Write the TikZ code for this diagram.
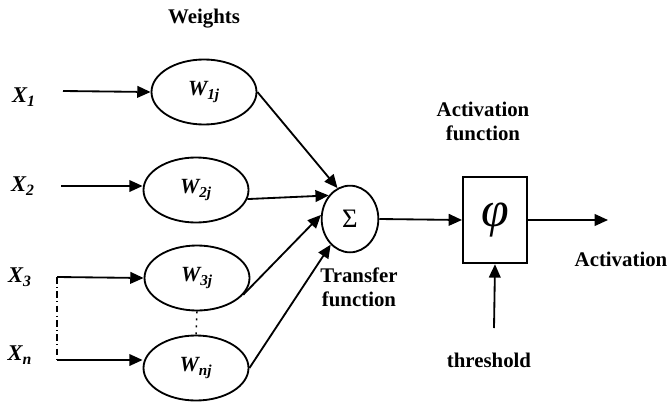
\documentclass[tikz,border=0pt]{standalone}
\usepackage{fontspec}
\setmainfont{Liberation Serif}
\usetikzlibrary{shapes.geometric,arrows.meta}

\begin{document}
\begin{tikzpicture}[x=0.6pt,y=-0.6pt]
        \tikzstyle{peso}=[draw=black, ellipse, line width=1.1pt, minimum width=63pt, minimum height=39pt, inner sep=0pt, font=\fontsize{13}{14}\bfseries\itshape]
        \tikzstyle{soma}=[draw=black, ellipse, line width=1.1pt, minimum width=34pt, minimum height=40pt, inner sep=0pt, font=\fontsize{16}{16}\selectfont]
        \tikzstyle{caixa}=[draw=black, rectangle, line width=1.1pt, minimum width=38.5pt, minimum height=52pt, inner sep=0pt, font=\fontsize{30}{30}\selectfont\itshape]
        \tikzstyle{rotulo}=[font=\fontsize{12.5}{14.4}\bfseries, align=center]
        \tikzstyle{entrada}=[font=\fontsize{13.5}{14}\bfseries\itshape]
        \tikzstyle{seta}=[line width=1.1pt, -{Triangle[length=8pt, width=7pt]}]

        \useasboundingbox (0,0) rectangle (669,402);

        \coordinate (A) at (63,91);
        \coordinate (B) at (61,186);
        \coordinate (C) at (57,277);
        \coordinate (D) at (57,360);
        \coordinate (E) at (608,220);
        \coordinate (F) at (494,328);

        \node (x1) at (24,97)[entrada]{X\textsubscript{1}};
        \node (x2) at (23,186)[entrada]{X\textsubscript{2}};
        \node (x3) at (20,277)[entrada]{X\textsubscript{3}};
        \node (xn) at (20,355)[entrada]{X\textsubscript{n}};

        \node (w1) at (204,92)[peso]{W\textsubscript{1j}};
        \node (w2) at (196,190)[peso]{W\textsubscript{2j}};
        \node (w3) at (197,278)[peso]{W\textsubscript{3j}};
        \node (wn) at (196,368)[peso]{W\textsubscript{nj}};

        \node (soma) at (350,219)[soma]{Σ};
        \node (phi) at (495,220)[caixa]{φ};

        \node (pesos) at (204,19)[rotulo]{Weights};
        \node (ativ) at (483,121)[rotulo]{Activation\\function};
        \node (transf) at (359,287)[rotulo]{Transfer\\function};
        \node (saida) at (621,259)[rotulo]{Activation};
        \node (limiar) at (489,360)[rotulo]{threshold};

        \draw[seta] (A) -- (w1.west);
        \draw[seta] (B) -- (w2.west |- B);
        \draw[seta] (C) -- (w3.west);
        \draw[seta] (D) -- (wn.west |- D);
        \draw[line width=0.8pt, dash pattern=on 4pt off 2pt on 0.6pt off 2pt] (C) -- (D);
        \draw[line width=0.9pt, dash pattern=on 1.2pt off 3pt] (w3.south) -- (wn.north);

        \draw[seta] (w1.east) -- (soma.112);
        \draw[seta] (w2.-10) -- (soma.132);
        \draw[seta] (w3.-20) -- (soma.172);
        \draw[seta] (wn.east) -- (soma.233);

        \draw[seta] (soma.east) -- (phi.west);
        \draw[seta] (phi.east) -- (E);
        \draw[seta] (F) -- (phi.south);
      \end{tikzpicture}
\end{document}
